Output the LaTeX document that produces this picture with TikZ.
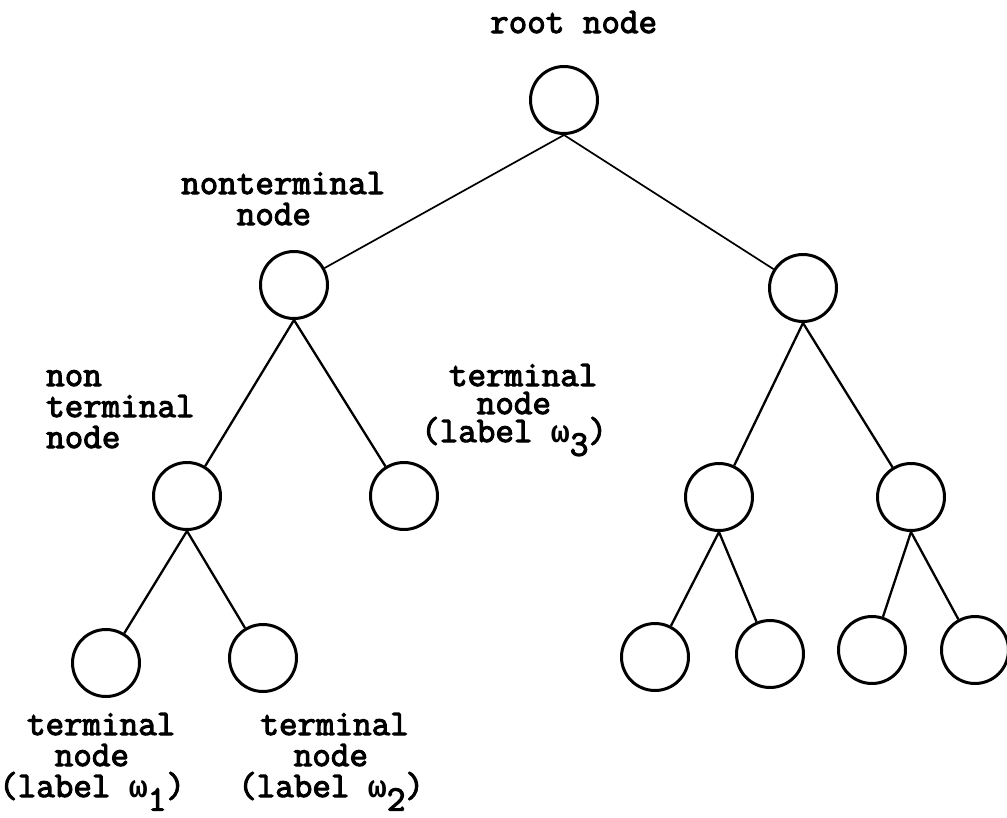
\documentclass[tikz,border=0pt]{standalone}
\usepackage{fontspec}
\setmonofont{Latin Modern Mono}[AutoFakeBold=3]
\newfontfamily\omegafont{Liberation Mono}
\newcommand\lowsub[1]{\raisebox{-0.38em}{#1}}
\newcommand\chsp[1]{\hspace*{#1\fontcharwd\font`n}}
\newcommand\om{{\omegafont\bfseries\fontsize{31.5pt}{31pt}\selectfont ω}}
\begin{document}
\begin{tikzpicture}[x=1pt,y=-1pt,
  tnode/.style={circle,draw,line width=3pt,minimum size=67pt,inner sep=0pt},
  edge/.style={line width=2.3pt},
  topedge/.style={line width=1.7pt},
  lbl/.style={font=\fontsize{36pt}{31pt}\selectfont\ttfamily\bfseries,align=left,inner sep=0pt,anchor=base west}]
\useasboundingbox (0,0) rectangle (1007,817);
% nodes
\node[tnode] (root) at (564,100) {};
\node[tnode] (a) at (294,285) {};
\node[tnode] (b) at (803,288) {};
\node[tnode] (aa) at (187,496) {};
\node[tnode] (ab) at (404,496) {};
\node[tnode] (ba) at (719,497) {};
\node[tnode] (bb) at (911,497) {};
\node[tnode] (aaa) at (106,663) {};
\node[tnode] (aab) at (263,658) {};
\node[tnode] (baa) at (655,657) {};
\node[tnode] (bab) at (770,654) {};
\node[tnode] (bba) at (872,650) {};
\node[tnode] (bbb) at (975,650) {};
% edges
\draw[topedge] (root.south) -- (a);
\draw[topedge] (root.south) -- (b);
\draw[edge] (a.south) -- (aa);
\draw[edge] (a.south) -- (ab);
\draw[edge] (b.south) -- (ba);
\draw[edge] (b.south) -- (bb);
\draw[edge] (aa.south) -- (aaa);
\draw[edge] (aa.south) -- (aab);
\draw[edge] (ba.south) -- (baa);
\draw[edge] (ba.south) -- (bab);
\draw[edge] (bb.south) -- (bba);
\draw[edge] (bb.south) -- (bbb);
% labels (anchored at the baseline of the last line)
\node[lbl] (lroot) at (490,33) {root node};
\node[lbl] (lnt) at (181,225) {nonterminal\\\chsp{3}node};
\node[lbl] (lnt2) at (46,448) {non\\terminal\\node};
\node[lbl,font=\fontsize{36pt}{28pt}\selectfont\ttfamily\bfseries] (lt3) at (421,442) {\chsp{1.5}terminal\\\chsp{3}node\\(label \om\lowsub{3})};
\node[lbl] (lt1) at (-1,797) {\chsp{1.5}terminal\\\chsp{3}node\\(label \om\lowsub{1})};
\node[lbl] (lt2) at (238,797) {\chsp{1.2}terminal\\\chsp{3}node\\(label \om\lowsub{2})};
\end{tikzpicture}
\end{document}
